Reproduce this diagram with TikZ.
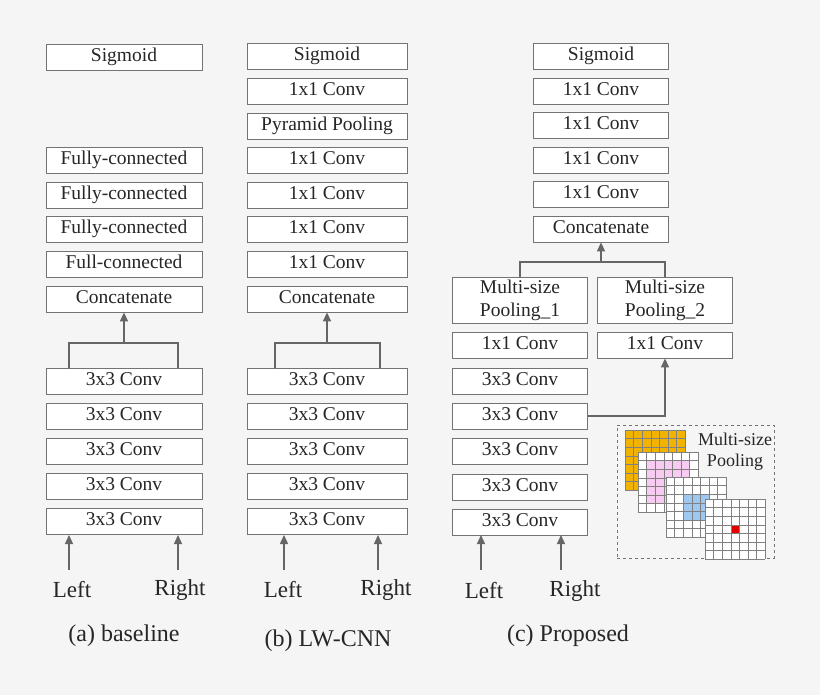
\documentclass[tikz,border=0pt]{standalone}
\usepackage{fontspec}
\setmainfont{Liberation Serif}
\usetikzlibrary{arrows.meta}
\definecolor{gold}{HTML}{F2B300}
\definecolor{pinkc}{HTML}{F8CCF2}
\definecolor{bluec}{HTML}{9CC8F2}
\begin{document}
\begin{tikzpicture}[x=1pt,y=-1pt,
 boxbase/.style={draw=black!55,fill=white,line width=0.8pt,inner sep=0pt,text=black!85},
 box/.style={boxbase,minimum height=26pt,font=\fontsize{19.5}{22}\selectfont,text height=13pt,text depth=4pt},
 ba/.style={box,minimum width=156pt},
 bb/.style={box,minimum width=160pt},
 bc/.style={box,minimum width=135pt},
 mbox/.style={boxbase,minimum width=135pt,minimum height=46pt,align=center,font=\fontsize{19.5}{23}\selectfont},
 arr/.style={draw=black!60,line width=1.4pt,-{Triangle[length=9pt,width=8pt]}},
 ln/.style={draw=black!60,line width=1.4pt},
 lab/.style={font=\fontsize{23}{26}\selectfont,text=black!85},
 captxt/.style={font=\fontsize{24}{26}\selectfont,text=black!85},
 cell/.style={draw=black!50,line width=0.5pt}]
\fill[black!4] (0,0) rectangle (820,695);
\useasboundingbox (0,0) rectangle (820,695);
% (a)
\node[ba] (a0) at (124,57) {Sigmoid};
\node[ba] (a1) at (124,160) {Fully-connected};
\node[ba] (a2) at (124,195) {Fully-connected};
\node[ba] (a3) at (124,229) {Fully-connected};
\node[ba] (a4) at (124,264) {Full-connected};
\node[ba] (ac) at (124,299) {Concatenate};
\foreach \i/\y in {1/381,2/416,3/451,4/486,5/521} \node[ba] (av\i) at (124,\y) {3x3 Conv};
\coordinate (aj) at (124,343);
\draw[ln] (69,368) |- (aj) -| (178,368);
\draw[arr] (aj) -- (ac.south);
\node[lab] (aL) at (72,590) {Left};
\node[lab] (aR) at (180,590) {Right};
\draw[arr] (69,570) -- (69,535);
\draw[arr] (178,570) -- (178,535);
\node[captxt] (acap) at (124,636) {(a) baseline};
% (b)
\node[bb] (b0) at (327,56) {Sigmoid};
\node[bb] (b1) at (327,91) {1x1 Conv};
\node[bb] (b2) at (327,126) {Pyramid Pooling};
\node[bb] (b3) at (327,160) {1x1 Conv};
\node[bb] (b4) at (327,195) {1x1 Conv};
\node[bb] (b5) at (327,229) {1x1 Conv};
\node[bb] (b6) at (327,264) {1x1 Conv};
\node[bb] (bc) at (327,299) {Concatenate};
\foreach \i/\y in {1/381,2/416,3/451,4/486,5/521} \node[bb] (bv\i) at (327,\y) {3x3 Conv};
\coordinate (bj) at (327,343);
\draw[ln] (275,368) |- (bj) -| (380,368);
\draw[arr] (bj) -- (bc.south);
\node[lab] (bL) at (283,590) {Left};
\node[lab] (bR) at (386,590) {Right};
\draw[arr] (284,570) -- (284,535);
\draw[arr] (378,570) -- (378,535);
\node[captxt] (bcap) at (328,641) {(b) LW-CNN};
% (c)
\node[bc] (c0) at (601,56) {Sigmoid};
\node[bc] (c1) at (601,91) {1x1 Conv};
\node[bc] (c2) at (601,125) {1x1 Conv};
\node[bc] (c3) at (601,160) {1x1 Conv};
\node[bc] (c4) at (601,194) {1x1 Conv};
\node[bc] (cc) at (601,229) {Concatenate};
\node[mbox] (p1) at (520,300) {Multi-size\\Pooling\_1};
\node[mbox] (p2) at (665,300) {Multi-size\\Pooling\_2};
\node[bc] (q1) at (520,345) {1x1 Conv};
\node[bc] (q2) at (665,345) {1x1 Conv};
\foreach \i/\y in {1/381,2/416,3/451,4/487,5/522} \node[bc] (cv\i) at (520,\y) {3x3 Conv};
\coordinate (cj) at (601,262);
\draw[ln] (p1.north) |- (cj) -| (p2.north);
\draw[arr] (cj) -- (cc.south);
\draw[arr] (cv2.east) -| (q2.south);
\node[lab] (cL) at (484,591) {Left};
\node[lab] (cR) at (575,591) {Right};
\draw[arr] (481,570) -- (481,535);
\draw[arr] (561,570) -- (561,535);
\node[captxt] (ccap) at (568,636) {(c) Proposed};
% inset
\node[draw=black!55,dashed,line width=0.8pt,minimum width=157pt,minimum height=133pt,inner sep=0pt] (ins) at (695.5,491.5) {};
\def\cs{8.6}
\fill[gold] (625,430) rectangle ++(60.2,60.2);
\foreach \k in {0,...,7} {\draw[cell] (625+\k*\cs,430) -- ++(0,60.2); \draw[cell] (625,430+\k*\cs) -- ++(60.2,0);}
\fill[white] (638,452) rectangle ++(60.2,60.2);
\fill[pinkc] (638+\cs,452+\cs) rectangle ++(5*\cs,5*\cs);
\foreach \k in {0,...,7} {\draw[cell] (638+\k*\cs,452) -- ++(0,60.2); \draw[cell] (638,452+\k*\cs) -- ++(60.2,0);}
\fill[white] (666,477) rectangle ++(60.2,60.2);
\fill[bluec] (666+2*\cs,477+2*\cs) rectangle ++(3*\cs,3*\cs);
\foreach \k in {0,...,7} {\draw[cell] (666+\k*\cs,477) -- ++(0,60.2); \draw[cell] (666,477+\k*\cs) -- ++(60.2,0);}
\fill[white] (705,499) rectangle ++(60.2,60.2);
\fill[red!90!black] (705+3*\cs,499+3*\cs) rectangle ++(\cs,\cs);
\foreach \k in {0,...,7} {\draw[cell] (705+\k*\cs,499) -- ++(0,60.2); \draw[cell] (705,499+\k*\cs) -- ++(60.2,0);}
\node[font=\fontsize{18}{21}\selectfont,align=center,text=black!85] (instxt) at (735,452) {Multi-size\\Pooling};
\end{tikzpicture}
\end{document}
